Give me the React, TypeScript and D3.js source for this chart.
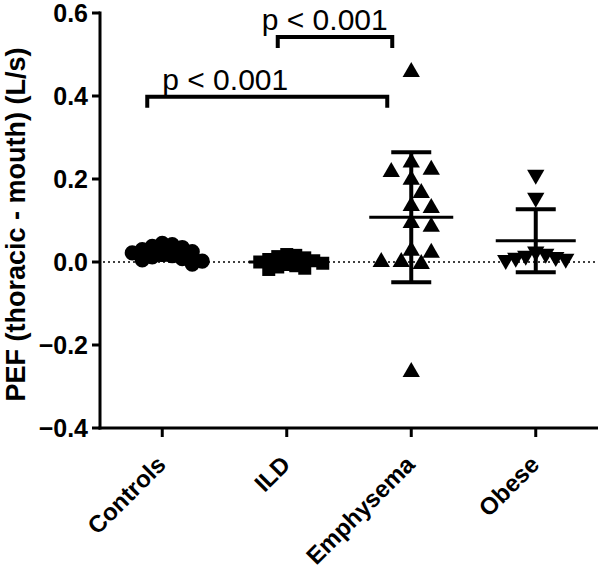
import React from "react";
import * as d3 from "d3";

const categories = ["Controls", "ILD", "Emphysema", "Obese"];
const controlsValues = [0.045, 0.042, 0.038, 0.035, 0.03, 0.025, 0.022, 0.018, 0.015, 0.012, 0.008, 0.005, 0.002, -0.005];
const ildValues = [0.018, 0.016, 0.013, 0.01, 0.006, 0.003, 0.0, -0.003, -0.006, -0.009, -0.012, -0.015, -0.018];
const emphysemaValues = [0.458, 0.24, 0.222, 0.217, 0.198, 0.166, 0.135, 0.13, 0.094, 0.085, 0.027, 0.022, 0.0, -0.005, 0.0, -0.265];
const obeseValues = [0.21, 0.155, 0.025, 0.02, 0.015, 0.012, 0.01, 0.008, 0.005];
const seriesValues = [controlsValues, ildValues, emphysemaValues, obeseValues];
const markerTypes = ["circle", "square", "triangle", "triangleDown"];
const yTicks = [-0.4, -0.2, 0.0, 0.2, 0.4, 0.6];
const comparisonFrom = ["Controls", "ILD"];
const comparisonTo = ["Emphysema", "Emphysema"];
const comparisonLevel = [0.398, 0.542];
const comparisonLabel = ["p < 0.001", "p < 0.001"];

const W = 600;
const H = 569;
const FONT = "Arial, 'Liberation Sans', Helvetica, sans-serif";

const x = d3.scalePoint<string>().domain(categories).range([100, 598]).padding(0.5);
const y = d3.scaleLinear().domain([-0.4, 0.6]).range([428, 13]);

function swarm(values: number[], cx: number, minDist: number, step: number) {
  const order = values.map((_, i) => i).sort((a, b) => values[b] - values[a]);
  const placed: { x: number; y: number; i: number }[] = [];
  for (const i of order) {
    const py = y(values[i]);
    let k = 0;
    let px = cx;
    while (true) {
      const off = k === 0 ? 0 : (k % 2 === 1 ? 1 : -1) * Math.ceil(k / 2) * step;
      px = cx + off;
      const ok = placed.every((p) => Math.hypot(p.x - px, p.y - py) >= minDist);
      if (ok) break;
      k++;
      if (k > 40) break;
    }
    placed.push({ x: px, y: py, i });
  }
  return placed;
}

function symbolPath(type: string) {
  if (type === "circle") return d3.symbol().type(d3.symbolCircle).size(180)()!;
  if (type === "square") return d3.symbol().type(d3.symbolSquare).size(169)()!;
  return d3.symbol().type(d3.symbolTriangle).size(130)()!;
}

export default function App() {
  const swarmParams: [number, number][] = [
    [10, 10],
    [9, 9],
    [15, 10],
    [10, 10],
  ];
  const meanHalf = [36, 38, 42, 40];
  return (
    <svg width={W} height={H} style={{ position: "absolute", left: 0, top: 0, background: "#fff" }}>
      {/* zero line */}
      <line x1={103} x2={598} y1={y(0)} y2={y(0)} stroke="#000" strokeWidth={1.5} strokeDasharray="2,3" />

      {/* points */}
      {categories.map((c, ci) => {
        const vals = seriesValues[ci];
        const [md, st] = swarmParams[ci];
        const pts = swarm(vals, x(c)!, md, st);
        const type = markerTypes[ci];
        const d = symbolPath(type);
        return (
          <g key={c}>
            {pts.map((p) => (
              <path
                key={p.i}
                d={d}
                transform={`translate(${p.x},${p.y})${type === "triangleDown" ? " rotate(180)" : ""}`}
                fill="#000"
              />
            ))}
          </g>
        );
      })}

      {/* mean and SD */}
      {categories.map((c, ci) => {
        const vals = seriesValues[ci];
        const m = d3.mean(vals)!;
        const sd = d3.deviation(vals)!;
        const cx = x(c)!;
        const hw = meanHalf[ci];
        return (
          <g key={c + "bar"} stroke="#000">
            <line x1={cx - hw} x2={cx + hw} y1={y(m)} y2={y(m)} strokeWidth={3} />
            <line x1={cx} x2={cx} y1={y(m + sd)} y2={y(m - sd)} strokeWidth={4} />
            <line x1={cx - 20} x2={cx + 20} y1={y(m + sd)} y2={y(m + sd)} strokeWidth={4} />
            <line x1={cx - 20} x2={cx + 20} y1={y(m - sd)} y2={y(m - sd)} strokeWidth={4} />
          </g>
        );
      })}

      {/* y axis */}
      <line x1={100} x2={100} y1={y(0.6) - 1.5} y2={y(-0.4) + 1.5} stroke="#000" strokeWidth={3} />
      {yTicks.map((t) => (
        <g key={t}>
          <line x1={92} x2={100} y1={y(t)} y2={y(t)} stroke="#000" strokeWidth={3} />
          <text
            x={88}
            y={y(t)}
            dy="0.36em"
            textAnchor="end"
            fontFamily={FONT}
            fontWeight="bold"
            fontSize={25}
            fill="#000"
          >
            {d3.format(".1f")(t)}
          </text>
        </g>
      ))}
      <text
        transform={`translate(25,${(y(0.6) + y(-0.4)) / 2 + 4}) rotate(-90)`}
        textAnchor="middle"
        fontFamily={FONT}
        fontWeight="bold"
        fontSize={27}
        fill="#000"
      >
        PEF (thoracic - mouth) (L/s)
      </text>

      {/* x axis */}
      <line x1={98.5} x2={598} y1={428} y2={428} stroke="#000" strokeWidth={3} />
      {categories.map((c) => (
        <g key={c + "tick"}>
          <line x1={x(c)!} x2={x(c)!} y1={428} y2={437} stroke="#000" strokeWidth={3} />
          <text
            transform={`translate(${x(c)! + 5},466) rotate(-45)`}
            textAnchor="end"
            fontFamily={FONT}
            fontWeight="bold"
            fontSize={24}
            fill="#000"
          >
            {c}
          </text>
        </g>
      ))}

      {/* significance brackets */}
      {comparisonLabel.map((lab, i) => {
        const x1 = x(comparisonFrom[i])! + (i === 0 ? -15 : -9);
        const x2 = x(comparisonTo[i])! + (i === 0 ? -24 : -19);
        const yy = y(comparisonLevel[i]);
        return (
          <g key={i}>
            <path
              d={`M${x1},${yy + 11}V${yy}H${x2}V${yy + 11}`}
              fill="none"
              stroke="#000"
              strokeWidth={4}
            />
            <text
              x={i === 0 ? x1 + 15 : x1 - 16}
              y={yy - 7}
              fontFamily={FONT}
              fontSize={30}
              fill="#000"
            >
              {lab}
            </text>
          </g>
        );
      })}
    </svg>
  );
}
